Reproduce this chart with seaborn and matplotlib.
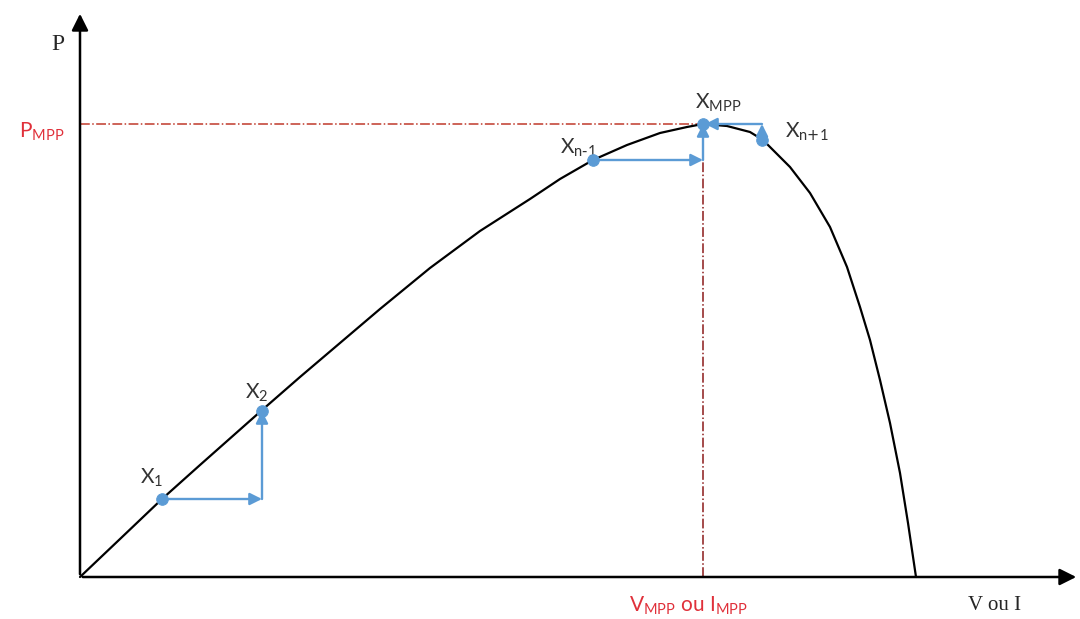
import matplotlib
matplotlib.use("Agg")
import matplotlib.pyplot as plt
import seaborn as sns
import pandas as pd

# === data (origin at the axis corner) ===
curve_v = [0, 40, 82, 120, 181, 220, 260, 300, 350, 400, 450, 480, 513, 547, 580, 607,
           623, 647, 670, 683, 690, 710, 730, 750, 767, 780, 790, 800, 810, 820, 828, 836]
curve_p = [0, 38, 78, 112, 166, 200, 234, 268, 309, 346, 378, 398, 417, 432, 444, 450,
           453, 451, 445, 437, 430, 410, 384, 350, 310, 270, 237, 197, 154, 104, 54, 0]

point_names = ["$X_1$", "$X_2$", r"$X_{n\text{-}1}$", "$X_{MPP}$", r"$X_{n\text{+}1}$"]
point_v = [82, 182, 513, 623, 682]
point_p = [78, 166, 417, 453, 437]

v_mpp = 623
p_mpp = 453

# perturb & observe steps: (start, corner, end)
steps = [
    ((82, 78), (182, 78), (182, 166)),
    ((513, 417), (623, 417), (623, 453)),
    ((682, 437), (682, 453), (625, 453)),
]

blue = "#5b9bd5"
red = "#e0303a"

sns.set_style("white")
plt.rcParams["mathtext.default"] = "regular"
plt.rcParams["font.family"] = ["Lato", "DejaVu Sans"]

fig = plt.figure(figsize=(10.8, 6.19), dpi=100)
ax = fig.add_axes([0, 0, 1, 1])
ax.set_xlim(-80, 1000)
ax.set_ylim(-42, 577)
ax.axis("off")

# axes with arrows
ax.annotate("", xy=(999, 0), xytext=(0, 0),
            arrowprops=dict(arrowstyle="-|>", color="black", lw=1.8, mutation_scale=25))
ax.annotate("", xy=(0, 566), xytext=(0, 0),
            arrowprops=dict(arrowstyle="-|>", color="black", lw=1.8, mutation_scale=25))

# MPP guide lines
ax.plot([0, v_mpp], [p_mpp, p_mpp], color="#c0392b", lw=1.1, ls="-.")
ax.plot([v_mpp, v_mpp], [0, p_mpp], color="#8b1a1a", lw=1.1, ls="-.")

# P-V curve
curve = pd.DataFrame({"v": curve_v, "p": curve_p})
sns.lineplot(data=curve, x="v", y="p", sort=False, color="black", lw=1.6, ax=ax)

# step arrows
for start, corner, end in steps:
    ax.annotate("", xy=corner, xytext=start,
                arrowprops=dict(arrowstyle="-|>", color=blue, lw=1.7, mutation_scale=18,
                                shrinkA=0, shrinkB=0))
    ax.annotate("", xy=end, xytext=corner,
                arrowprops=dict(arrowstyle="-|>", color=blue, lw=1.7, mutation_scale=18,
                                shrinkA=0, shrinkB=0))

points = pd.DataFrame({"v": point_v, "p": point_p})
sns.scatterplot(data=points, x="v", y="p", color=blue, s=70, edgecolor=blue,
                zorder=5, ax=ax)

# point labels
label_pos = [(72, 99), (177, 184), (498, 429), (638, 474), (727, 445)]
for name, (lx, ly) in zip(point_names, label_pos):
    ax.text(lx, ly, name, fontsize=15, color="#333333", ha="center", va="center")

# axis labels
ax.text(-22, 532, "P", fontsize=17, family=["Liberation Serif"], ha="center", va="center")
ax.text(915, -29, "V ou I", fontsize=15, family=["Liberation Serif"], ha="center", va="center")
ax.text(-38, 445, "$P_{MPP}$", fontsize=15, color=red, ha="center", va="center")
ax.text(608, -29, "$V_{MPP}$ ou $I_{MPP}$", fontsize=15, color=red, ha="center", va="center")

fig.savefig("out.png", dpi=100)
